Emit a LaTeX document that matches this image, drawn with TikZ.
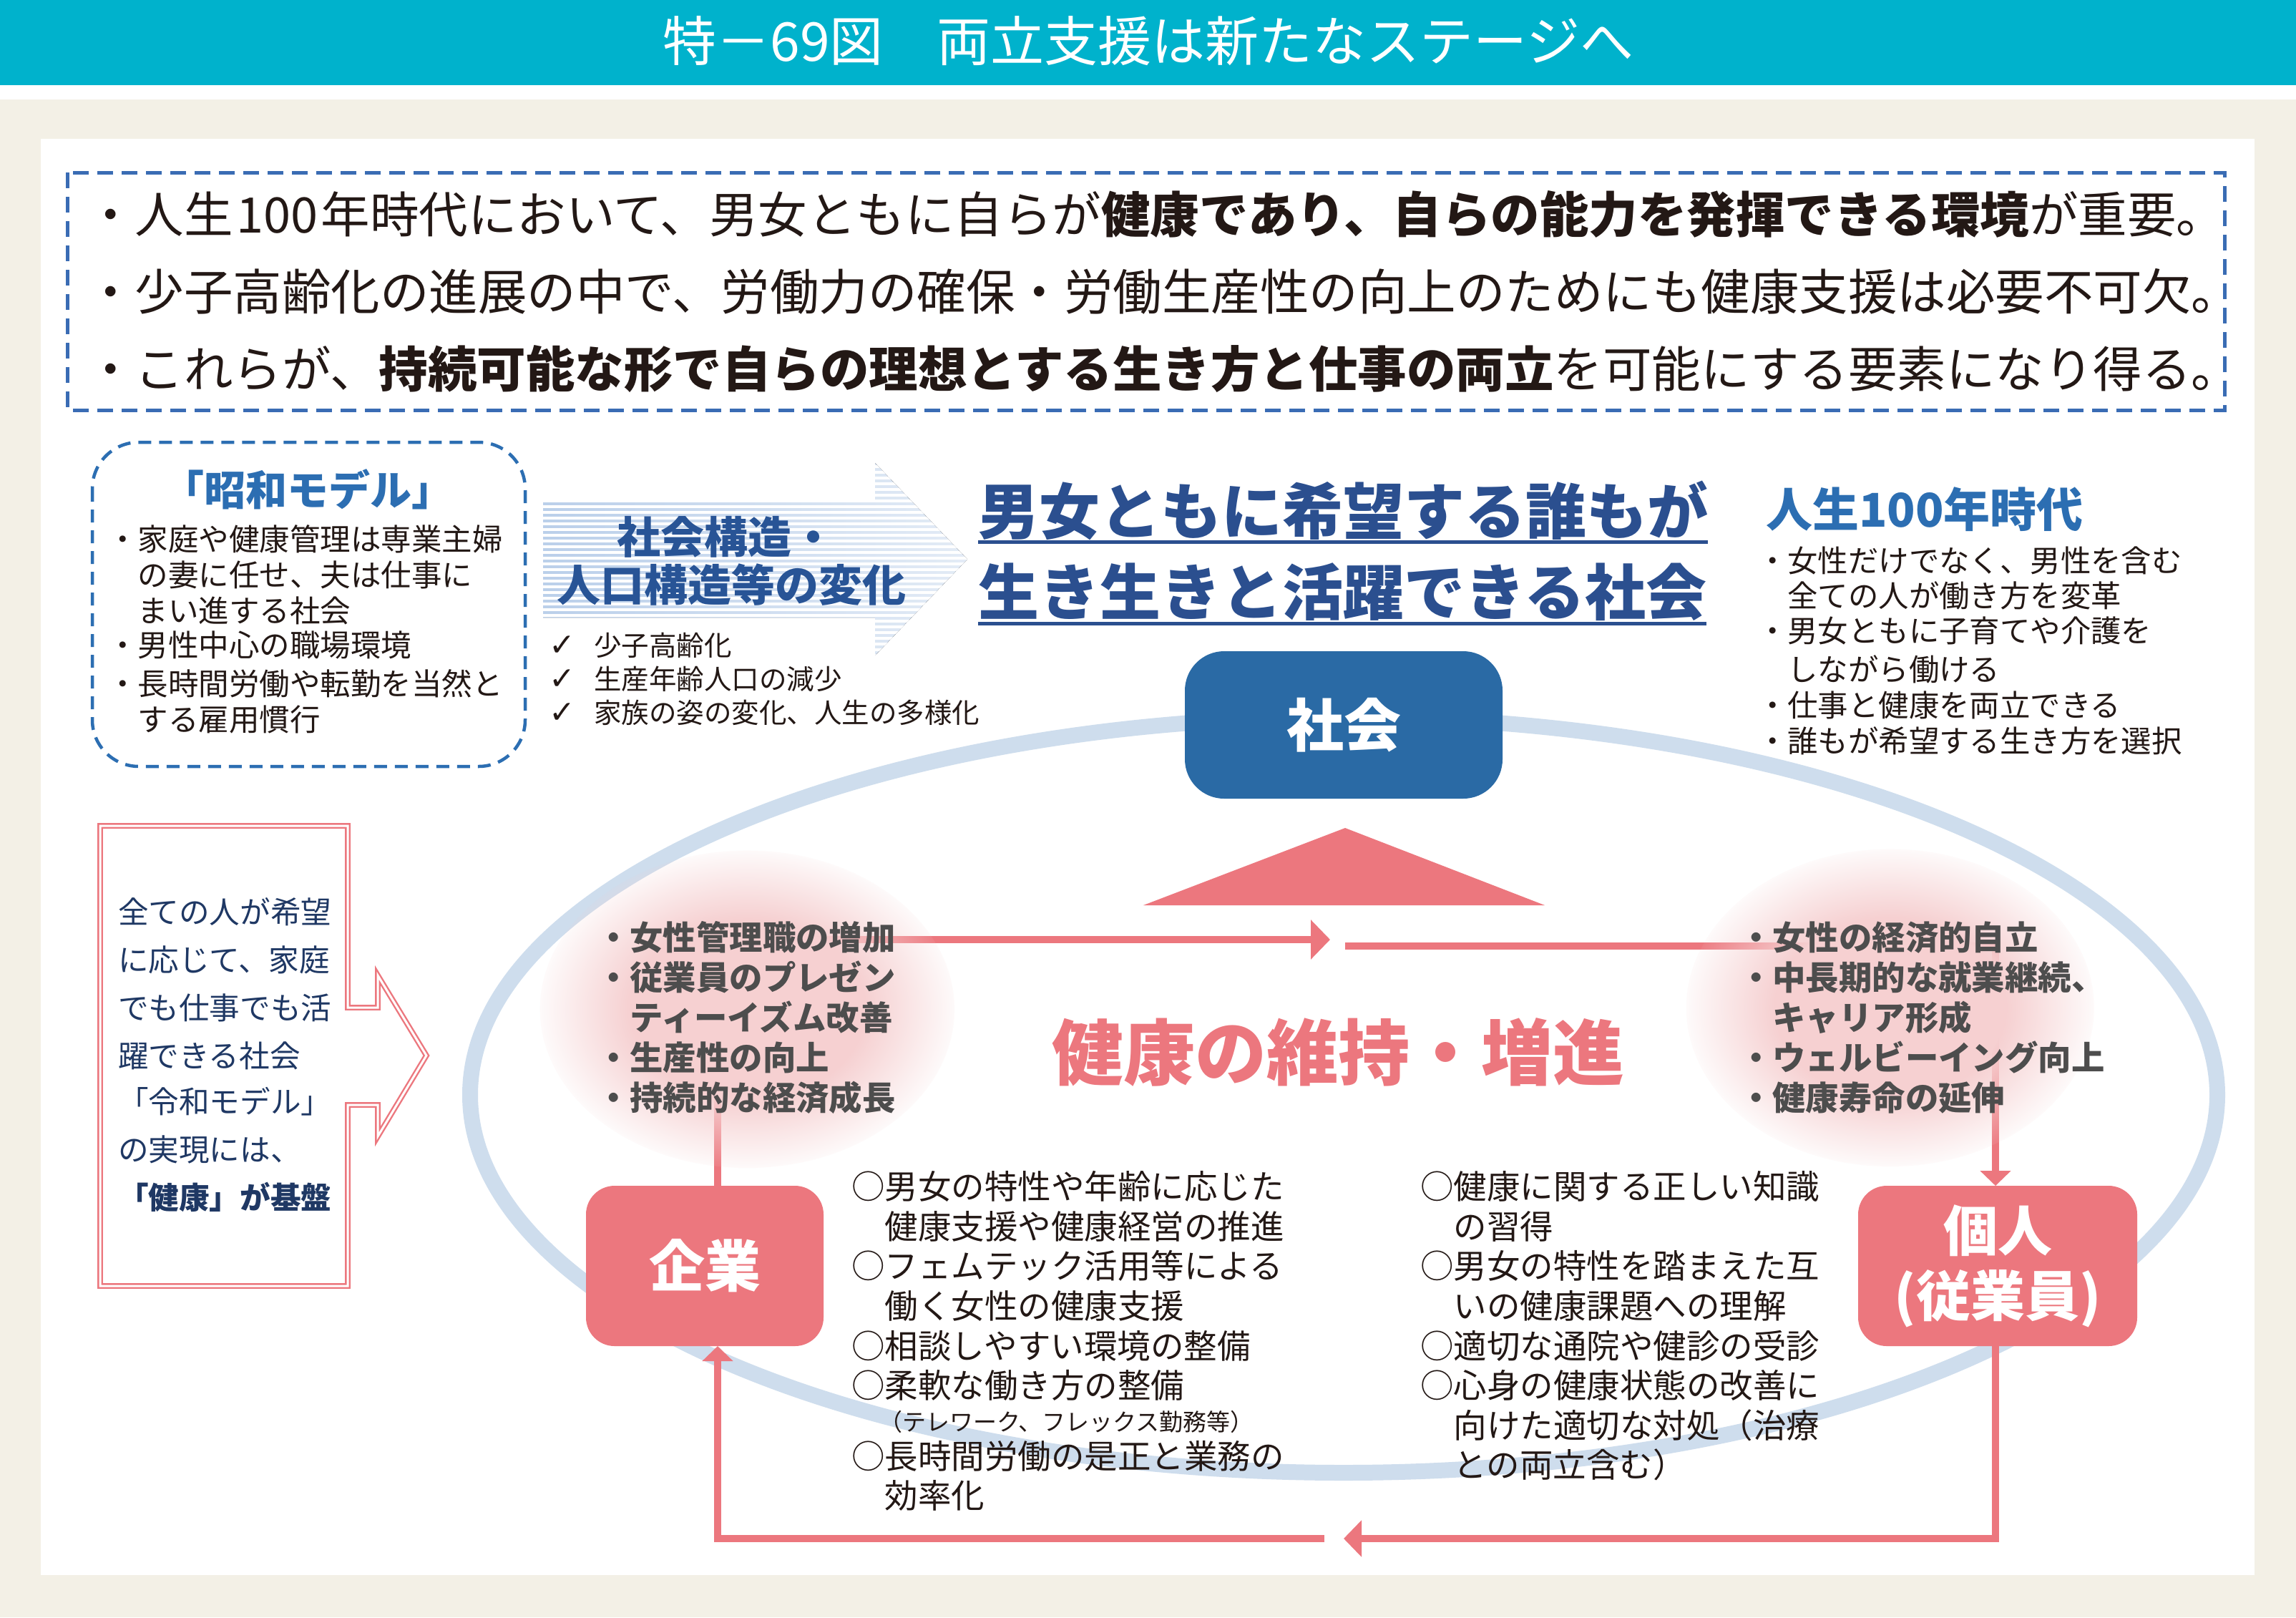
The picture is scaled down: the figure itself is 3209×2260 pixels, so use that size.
\documentclass[tikz,border=0pt]{standalone}
\usepackage{fontspec}
\setmainfont{Noto Sans CJK JP}
\newfontfamily\symf{DejaVu Sans}
\usetikzlibrary{arrows.meta,fadings}
\newcommand\fsz[1]{\fontsize{#1}{#1}\selectfont}
\definecolor{titlebar}{RGB}{0,178,204}
\definecolor{beige}{RGB}{243,240,230}
\definecolor{dashblue}{RGB}{58,108,180}
\definecolor{showablue}{RGB}{44,110,178}
\definecolor{headblue}{RGB}{43,79,143}
\definecolor{arrowtext}{RGB}{40,84,150}
\definecolor{shakaiblue}{RGB}{42,106,165}
\definecolor{ringblue}{RGB}{206,221,237}
\definecolor{pinkc}{RGB}{236,119,126}
\definecolor{blobpink}{RGB}{246,208,209}
\definecolor{txt}{RGB}{35,24,21}
\definecolor{graytxt}{RGB}{77,77,77}
\definecolor{navytxt}{RGB}{31,56,100}
\definecolor{stripeA}{RGB}{186,207,234}
\definecolor{stripeB}{RGB}{228,236,246}
\pgfdeclareradialshading{blobshade}{\pgfpointorigin}{color(0bp)=(pgftransparent!0); color(14bp)=(pgftransparent!0); color(26bp)=(pgftransparent!100); color(50bp)=(pgftransparent!100)}
\pgfdeclarefading{blobfade}{\pgfuseshading{blobshade}}
\begin{document}
\begin{tikzpicture}[x=1pt,y=-1pt,
  jt/.style={anchor=base west, inner sep=0pt, outer sep=0pt},
  jc/.style={anchor=base, inner sep=0pt, outer sep=0pt},
  conn/.style={draw=pinkc, line width=10pt},
  pinkbox/.style={fill=pinkc, text=white, rounded corners=40pt, inner sep=0pt, minimum height=224pt},
  blobtext/.style={jt, text=graytxt, font=\bfseries\fsz{46.4}},
  bodytext/.style={jt, text=txt, font=\fsz{46.5}}]
\useasboundingbox (0,0) rectangle (3209,2260);
% background
\fill[beige] (0,0) rectangle (3209,2260);
\fill[titlebar] (0,0) rectangle (3209,119);
\fill[white] (0,119) rectangle (3209,139);
\fill[white] (57,194) rectangle (3151,2201);
\node[jc, text=white, font=\fsz{75}] (title) at (1605,85.5) {特－69図　両立支援は新たなステージへ};
% intro box
\draw[dashblue, line width=5pt, dash pattern=on 22pt off 12pt] (94,241) rectangle (3109,573);
\node[jt, text=txt, font=\fsz{68.5}] (intro1) at (120,325) {・人生\makebox[1.8em][c]{100}年時代において、男女ともに自らが{\bfseries 健康であり、自らの能力を発揮できる環境}が重要。};
\node[jt, text=txt, font=\fsz{68.5}] (intro2) at (120,433) {・少子高齢化の進展の中で、労働力の確保・労働生産性の向上のためにも健康支援は必要不可欠。};
\node[jt, text=txt, font=\fsz{68.5}] (intro3) at (120,541) {・これらが、{\bfseries 持続可能な形で自らの理想とする生き方と仕事の両立}を可能にする要素になり得る。};
% showa model
\draw[showablue, line width=4.5pt, dash pattern=on 18pt off 11pt, rounded corners=65pt] (129,618) rectangle (734,1071);
\node[jc, text=showablue, font=\bfseries\fsz{58}] (showatitle) at (430,706) {「昭和モデル」};
\foreach \yy/\t [count=\i] in {769/{・家庭や健康管理は専業主婦}, 819/{　の妻に任せ、夫は仕事に}, 869/{　まい進する社会}, 917/{・男性中心の職場環境}, 971/{・長時間労働や転勤を当然と}, 1021/{　する雇用慣行}}
  \node[jt, text=txt, font=\fsz{42.5}] (showa\i) at (150,\yy) {\t};
% striped arrow
\begin{scope}
  \path[clip] (759,700) -- (1223,700) -- (1223,647) -- (1352,781.5) -- (1223,916) -- (1223,863) -- (759,863) -- cycle;
  \fill[left color=stripeA, right color=stripeB] (750,640) rectangle (1360,920);
  \foreach \yy in {644,652,...,920} \draw[white, line width=3.5pt] (750,\yy) -- (1360,\yy);
\end{scope}
\node[jc, text=arrowtext, font=\bfseries\fsz{61}] (arr1) at (1015,773) {社会構造・};
\node[jc, text=arrowtext, font=\bfseries\fsz{61}] (arr2) at (1022,840) {人口構造等の変化};
\foreach \yy/\t [count=\i] in {916/{少子高齢化}, 963/{生産年齢人口の減少}, 1010/{家族の姿の変化、人生の多様化}} {
  \node[jc, text=txt, font=\symf\fsz{44}] (chk\i) at (786,\yy) {✓};
  \node[jt, text=txt, font=\fsz{38.5}] (chkt\i) at (830,\yy) {\t};
}
% headline
\node[jt, text=headblue, font=\bfseries\fsz{85}] (head1) at (1367,746) {男女ともに希望する誰もが};
\node[jt, text=headblue, font=\bfseries\fsz{85}] (head2) at (1367,859) {生き生きと活躍できる社会};
\draw[headblue, line width=5pt] ([yshift=-11pt]head1.base west) -- ([yshift=-11pt]head1.base east);
\draw[headblue, line width=5pt] ([yshift=-12pt]head2.base west) -- ([yshift=-12pt]head2.base east);
% 100 years
\node[jt, text=showablue, font=\bfseries\fsz{65}] (life100) at (2468,736) {人生100年時代};
\foreach \yy/\t [count=\i] in {799/{・女性だけでなく、男性を含む}, 848/{　全ての人が働き方を変革}, 897/{・男女ともに子育てや介護を}, 951/{　しながら働ける}, 1001/{・仕事と健康を両立できる}, 1051/{・誰もが希望する生き方を選択}}
  \node[jt, text=txt, font=\fsz{42.4}] (life\i) at (2456,\yy) {\t};
% ring
\draw[ringblue, line width=22pt] (1878,1530) ellipse [x radius=1221, y radius=528];
% connectors
\coordinate (tA) at (1859,1313);
\coordinate (tB) at (1880,1322);
\coordinate (bC) at (1878,2150);
\coordinate (bD) at (1851,2150);
\coordinate (kigyoTop) at (1003,1657);
\coordinate (kigyoBot) at (1003,1881);
\coordinate (kojinTop) at (2789,1657);
\coordinate (kojinBot) at (2789,1881);
\draw[conn, -{Triangle[length=27pt,width=54pt]}] (kigyoTop) |- (tA);
\draw[conn, -{Triangle[length=21pt,width=42pt]}] (tB) -| (kojinTop);
\draw[conn, -{Triangle[length=25pt,width=50pt]}] (kojinBot) |- (bC);
\draw[conn, -{Triangle[length=21pt,width=42pt]}] (bD) -| (kigyoBot);
% blobs
\fill[blobpink, path fading=blobfade] (1045,1410) ellipse [x radius=290, y radius=222];
\fill[blobpink, path fading=blobfade] (2642,1408) ellipse [x radius=285, y radius=222];
\foreach \yy/\t [count=\i] in {1327/{・女性管理職の増加}, 1383/{・従業員のプレゼン}, 1439/{　ティーイズム改善}, 1495/{・生産性の向上}, 1551/{・持続的な経済成長}}
  \node[blobtext] (corp\i) at (834,\yy) {\t};
\foreach \yy/\t [count=\i] in {1327/{・女性の経済的自立}, 1383/{・中長期的な就業継続、}, 1439/{　キャリア形成}, 1495/{・ウェルビーイング向上}, 1551/{・健康寿命の延伸}}
  \node[blobtext] (pers\i) at (2431,\yy) {\t};
% boxes
\node[fill=shakaiblue, text=white, rounded corners=55pt, inner sep=0pt, minimum width=444pt, minimum height=206pt, font=\bfseries\fsz{80}] (shakai) at (1878,1013) {社会};
\node[pinkbox, minimum width=332pt, font=\bfseries\fsz{78}] (kigyo) at (985,1769) {企業};
\node[pinkbox, minimum width=390pt, align=center, font=\bfseries\fontsize{76}{91}\selectfont] (kojin) at (2792,1769) {個人\\(従業員)};
\fill[pinkc] (1880,1157) -- (2159,1265) -- (1598,1265) -- cycle;
\node[jc, text=pinkc, font=\bfseries\fsz{100}] (health) at (1870,1508) {健康の維持・増進};
% bottom texts
\foreach \yy/\t [count=\i] in {1675/{○男女の特性や年齢に応じた}, 1731/{　健康支援や健康経営の推進}, 1786/{○フェムテック活用等による}, 1842/{　働く女性の健康支援}, 1898/{○相談しやすい環境の整備}, 1953/{○柔軟な働き方の整備}, 2052/{○長時間労働の是正と業務の}, 2107/{　効率化}}
  \node[bodytext] (cmeas\i) at (1190,\yy) {\t};
\node[jt, text=txt, font=\fsz{33}] (cmeasnote) at (1228,1999) {（テレワーク、フレックス勤務等）};
\foreach \yy/\t [count=\i] in {1675/{○健康に関する正しい知識}, 1731/{　の習得}, 1786/{○男女の特性を踏まえた互}, 1842/{　いの健康課題への理解}, 1898/{○適切な通院や健診の受診}, 1953/{○心身の健康状態の改善に}, 2009/{　向けた適切な対処（治療}, 2064/{　との両立含む）}}
  \node[bodytext] (pmeas\i) at (1985,\yy) {\t};
% left reiwa box
\draw[pinkc, line width=2.4pt, double=white, double distance=3pt] (140,1154) -- (486,1154) -- (486,1408) -- (528,1408) -- (528,1363) -- (596,1475) -- (528,1588) -- (528,1544) -- (486,1544) -- (486,1797) -- (140,1797) -- cycle;
\foreach \yy/\t [count=\i] in {1290/{全ての人が希望}, 1357/{に応じて、家庭}, 1424/{でも仕事でも活}, 1491/{躍できる社会}, 1555/{「令和モデル」}, 1622/{の実現には、}, 1689/{{\bfseries 「健康」が基盤}}}
  \node[jt, text=navytxt, font=\fsz{42.6}] (reiwa\i) at (165,\yy) {\t};
\end{tikzpicture}
\end{document}
